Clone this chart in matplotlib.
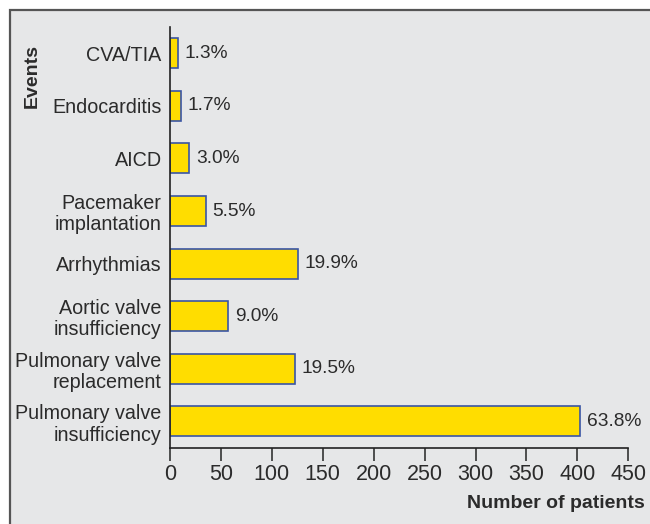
import matplotlib.pyplot as plt
from matplotlib.patches import Rectangle

# Data
events = ["CVA/TIA", "Endocarditis", "AICD", "Pacemaker\nimplantation",
          "Arrhythmias", "Aortic valve\ninsufficiency",
          "Pulmonary valve\nreplacement", "Pulmonary valve\ninsufficiency"]
patients = [8, 11, 19, 35, 126, 57, 123, 403]
percent = ["1.3%", "1.7%", "3.0%", "5.5%", "19.9%", "9.0%", "19.5%", "63.8%"]
xticks = [0, 50, 100, 150, 200, 250, 300, 350, 400, 450]

plt.rcParams['font.family'] = ['Liberation Sans', 'DejaVu Sans']
txt = '#2b2b2b'
bg = '#e6e7e8'

fig = plt.figure(figsize=(6.5, 5.24), dpi=100)
fig.patch.set_facecolor('white')
# framed panel, open to the right and bottom
fig.patches.append(Rectangle((9.5 / 650, -0.05), 1.1, 1 - 9.5 / 524 + 0.05,
                             transform=fig.transFigure, facecolor=bg,
                             edgecolor='#555555', lw=1.6, zorder=-10))

ax = fig.add_axes([170 / 650, 1 - 447.7 / 524, (628.3 - 170) / 650,
                   (447.7 - 27) / 524])
ax.set_facecolor('none')
ax.set_zorder(5)

y = list(range(len(events)))
ax.barh(y, patients, height=0.57, color='#ffdd00', edgecolor='#3a55a4',
        lw=1.2, zorder=2)
for yi, v, p in zip(y, patients, percent):
    ax.text(v + 6.5, yi, p, va='center', ha='left', fontsize=13.8, color=txt)

ax.set_ylim(len(events) - 0.5, -0.5)
ax.set_xlim(0, 450)
ax.set_yticks(y)
ax.set_yticklabels(events, fontsize=14.2, color=txt, linespacing=1.15)
ax.set_xticks(xticks)
ax.set_xticklabels([str(t) for t in xticks], fontsize=15.5, color=txt)
ax.tick_params(axis='y', length=0, pad=6)
ax.tick_params(axis='x', length=9, width=1.2, color='#333333', pad=3,
               direction='out')
for s in ['top', 'right']:
    ax.spines[s].set_visible(False)
for s in ['left', 'bottom']:
    ax.spines[s].set_color('#222222')
    ax.spines[s].set_linewidth(1.2)

fig.text(32 / 650, 1 - 44 / 524, "Events", rotation=90, ha='center', va='top',
         fontsize=14, fontweight='bold', color=txt)
fig.text(645 / 650, 1 - 503 / 524, "Number of patients", ha='right',
         va='center', fontsize=14, fontweight='bold', color=txt)

fig.savefig("out.png", dpi=100)
